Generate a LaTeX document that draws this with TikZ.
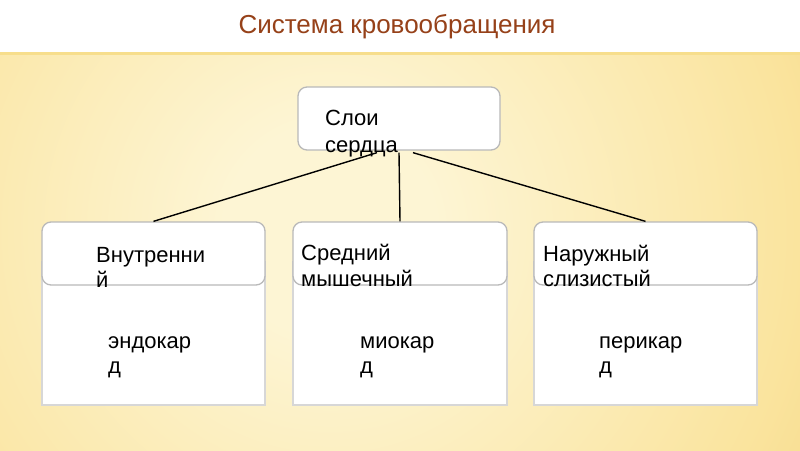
\documentclass[tikz,border=0pt]{standalone}
\usepackage{fontspec}
\setmainfont{Liberation Sans}
\usetikzlibrary{calc}
\definecolor{bgin}{RGB}{253,245,212}
\definecolor{bgmid}{RGB}{250,228,158}
\definecolor{bgout}{RGB}{238,182,72}
\definecolor{stripc}{RGB}{247,222,140}
\definecolor{titlec}{RGB}{150,65,25}
\definecolor{hdrborder}{RGB}{185,185,185}
\definecolor{bodyborder}{RGB}{215,215,215}
\pgfdeclareradialshading{bgshade}{\pgfpoint{0bp}{0bp}}{color(0bp)=(bgin); color(5bp)=(bgin); color(22bp)=(bgmid); color(48bp)=(bgout); color(50bp)=(bgout)}
\begin{document}
\begin{tikzpicture}[x=1pt,y=-1pt,
  hdr/.style={draw=hdrborder, line width=1.3pt, fill=white, rounded corners=9pt, inner sep=0pt},
  bodybox/.style={draw=bodyborder, line width=1.3pt, fill=white, inner sep=0pt},
  txt/.style={font=\fontsize{22}{25}\selectfont, align=left, inner sep=0pt, anchor=base west},
  link/.style={draw=black, line width=1.4pt}]
\useasboundingbox (0,0) rectangle (800,450);
\fill[white] (0,0) rectangle (800,53);
\begin{scope}
  \clip (0,53) rectangle (800,450);
  \shade[shading=bgshade] (330,230) circle (530pt);
\end{scope}
\fill[stripc] (0,52) rectangle (800,55);
\node[font=\fontsize{26}{30}\selectfont, text=titlec, anchor=base] (title) at (397,33) {Система кровообращения};
% bodies
\node[bodybox, minimum width=223pt, minimum height=143pt] (b1) at (153.5,333.5) {};
\node[bodybox, minimum width=214pt, minimum height=143pt] (b2) at (400,333.5) {};
\node[bodybox, minimum width=223pt, minimum height=143pt] (b3) at (645.5,333.5) {};
% headers
\node[hdr, minimum width=202pt, minimum height=63pt] (top) at (399,118.5) {};
\node[hdr, minimum width=223pt, minimum height=63pt] (h1) at (153.5,253.5) {};
\node[hdr, minimum width=214pt, minimum height=63pt] (h2) at (400,253.5) {};
\node[hdr, minimum width=223pt, minimum height=63pt] (h3) at (645.5,253.5) {};
% connectors
\draw[link] ($(top.south)+(-22,2)$) -- (h1.north);
\draw[link] ($(top.south)+(0,2)$) -- (h2.north);
\draw[link] ($(top.south)+(14,2)$) -- (h3.north);
% texts
\node[txt] (t0) at (325,152) {Слои\\[2pt]сердца};
\node[txt] (t1) at (96,287) {Внутренни\\й};
\node[txt] (t2) at (301,286) {Средний\\[1pt]мышечный};
\node[txt] (t3) at (543,286) {Наружный\\слизистый};
\node[txt] (e1) at (108,373) {эндокар\\д};
\node[txt] (e2) at (360,373) {миокар\\д};
\node[txt] (e3) at (599,373) {перикар\\д};
\end{tikzpicture}
\end{document}
